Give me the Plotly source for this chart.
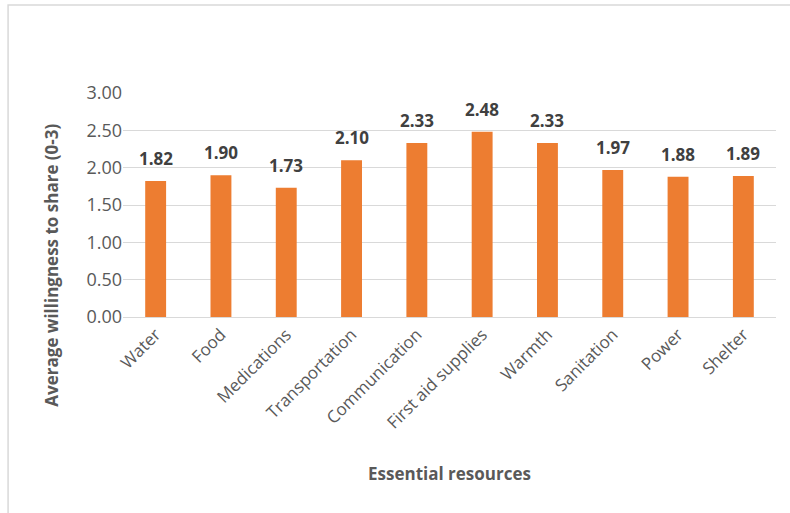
import plotly.graph_objects as go

categories = ["Water", "Food", "Medications", "Transportation", "Communication",
              "First aid supplies", "Warmth", "Sanitation", "Power", "Shelter"]
values = [1.82, 1.90, 1.73, 2.10, 2.33, 2.48, 2.33, 1.97, 1.88, 1.89]
y_ticks = [0, 0.5, 1.0, 1.5, 2.0, 2.5, 3.0]
y_tick_labels = ["0.00", "0.50", "1.00", "1.50", "2.00", "2.50", "3.00"]

FONT = "Open Sans"
GRAY = "#595959"

fig = go.Figure()
fig.add_trace(go.Bar(x=categories, y=values, marker_color="#ED7D31",
                     marker_line_width=0, hoverinfo="x+y"))

annotations = []
for c, v in zip(categories, values):
    annotations.append(dict(x=c, y=v, xref="x", yref="y", text=f"{v:.2f}",
                            showarrow=False, yanchor="bottom", yshift=9,
                            font=dict(family=FONT, size=17, color="#404040", weight="bold")))
annotations.append(dict(x=0.5, y=-0.70, xref="paper", yref="paper",
                        text="Essential resources", showarrow=False,
                        xanchor="center", yanchor="middle",
                        font=dict(family=FONT, size=17, color=GRAY, weight="bold")))
annotations.append(dict(x=-0.11, y=0.23, xref="paper", yref="paper",
                        text="Average willingness to share (0-3)", showarrow=False,
                        textangle=-90, xanchor="center", yanchor="middle",
                        font=dict(family=FONT, size=17, color=GRAY, weight="bold")))

fig.update_layout(
    width=790, height=513,
    margin=dict(l=123, r=14, t=93, b=196),
    paper_bgcolor="white", plot_bgcolor="white",
    bargap=0.68,
    showlegend=False,
    font=dict(family=FONT, color=GRAY),
    xaxis=dict(tickangle=-45, tickfont=dict(family=FONT, size=17, color=GRAY),
               showline=True, linecolor="#d9d9d9", linewidth=1, ticks="",
               showgrid=False),
    yaxis=dict(range=[0, 3.0], tickvals=y_ticks, ticktext=y_tick_labels,
               tickfont=dict(family=FONT, size=18, color=GRAY),
               showgrid=True, gridcolor="#d9d9d9", gridwidth=1,
               zeroline=False, showline=False, ticks="", ticklen=0,
               automargin=False),
    annotations=annotations,
    shapes=[dict(type="rect", xref="paper", yref="paper",
                 x0=-0.176, x1=1.2, y0=-1.2, y1=1.393,
                 line=dict(color="#d9d9d9", width=1.5), layer="below")],
)
fig.update_xaxes(automargin=False)

fig.write_html("out.html")
